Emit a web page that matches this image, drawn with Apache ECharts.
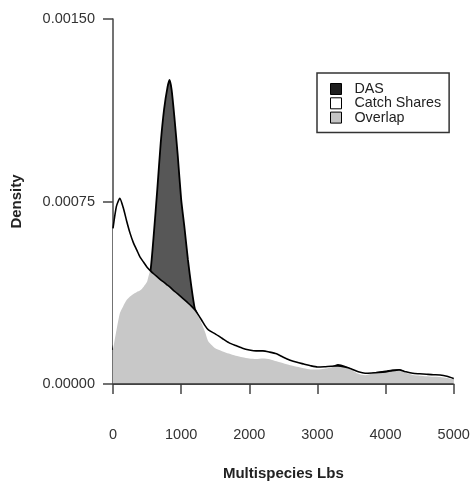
<!DOCTYPE html>
<html>
<head>
<meta charset="utf-8">
<script src="https://cdn.jsdelivr.net/npm/echarts@6/dist/echarts.min.js"></script>
<style>html,body{margin:0;padding:0;background:#fff;}#c{width:473px;height:483px;}</style>
</head>
<body>
<div id="c"></div>
<script>
// Multispecies lbs sample points
var lbs = [0, 50, 100, 150, 200, 250, 300, 350, 400, 450, 500, 550, 600, 650, 700, 750, 800, 830, 860, 900, 950, 1000, 1050, 1100, 1150, 1200, 1250, 1300, 1350, 1400, 1500, 1600, 1700, 1800, 1900, 2000, 2100, 2200, 2300, 2400, 2500, 2600, 2700, 2800, 2900, 3000, 3100, 3200, 3300, 3400, 3500, 3600, 3700, 3800, 3900, 4000, 4100, 4200, 4300, 4400, 4500, 4600, 4700, 4800, 4900, 5000];
// Catch Shares density (x 1e-5)
var catchShares = [64, 73, 76.3, 72.5, 67, 62, 58, 55, 52, 50, 48, 46.5, 45.2, 44, 42.8, 41.8, 40.6, 40, 39.2, 38.2, 37, 35.8, 34.6, 33.3, 32, 30.5, 28.5, 26.3, 24, 22.2, 20.6, 18.8, 17, 15.8, 14.7, 14, 13.6, 13.6, 13.1, 12.4, 11, 9.8, 8.9, 8.2, 7.5, 7, 7.1, 7.3, 7.4, 7, 6.2, 5, 4.4, 4.5, 4.7, 5, 5.5, 5.8, 5, 4.4, 4.2, 4, 3.8, 3.7, 3.2, 2.3];
// DAS density (x 1e-5)
var das = [14, 22, 29, 32, 34.5, 36, 37, 37.8, 38.5, 40, 42, 46.5, 62, 80, 99, 113, 122, 125, 121, 110, 94, 76, 64, 51, 40, 31, 28, 25, 21.5, 17.5, 14.7, 13.5, 12.5, 11.6, 11, 10.5, 10.3, 10.5, 10.2, 9.3, 8.5, 7.7, 7.1, 6.5, 6, 6, 6.3, 6.8, 7.8, 7.2, 5.8, 4.2, 3.6, 4.2, 4.8, 5.2, 5.6, 5.7, 4.6, 3.7, 3.4, 3.2, 3.0, 2.9, 2.5, 2];
var scale = 1e-5;
var xTickLabels = ['0', '1000', '2000', '3000', '4000', '5000'];
var yTickLabels = ['0.00000', '0.00075', '0.00150'];
var legendNames = ['DAS', 'Catch Shares', 'Overlap'];

function pairs(arr) { return lbs.map(function (x, i) { return [x, arr[i] * scale]; }); }
var overlap = das.map(function (v, i) { return Math.min(v, catchShares[i]); });

var font = "'Liberation Sans', Arial, Helvetica, sans-serif";
var chart = echarts.init(document.getElementById('c'), null, {renderer: 'canvas'});
chart.setOption({
  animation: false,
  backgroundColor: '#fff',
  textStyle: {fontFamily: font},
  grid: {left: 113, right: 19.3, top: 19, bottom: 99, containLabel: false, outerBoundsMode: 'none'},
  xAxis: {
    type: 'value', min: 0, max: 5000, interval: 1000, offset: 14,
    name: 'Multispecies Lbs', nameLocation: 'middle', nameGap: 68,
    nameTextStyle: {fontSize: 15, fontWeight: 'bold', color: '#222', fontFamily: font},
    axisLine: {show: true, lineStyle: {color: '#444', width: 1.5}},
    axisTick: {show: true, length: 10, lineStyle: {color: '#444', width: 1.5}},
    axisLabel: {margin: 29, fontSize: 14.5, color: '#333', fontFamily: font,
      formatter: function (v) { return xTickLabels[Math.round(v / 1000)]; }},
    splitLine: {show: false}
  },
  yAxis: {
    type: 'value', min: 0, max: 0.0015, interval: 0.00075,
    name: 'Density', nameLocation: 'middle', nameGap: 89, nameRotate: 90,
    nameTextStyle: {fontSize: 15, fontWeight: 'bold', color: '#222', fontFamily: font},
    axisLine: {show: true, lineStyle: {color: '#444', width: 1.5}},
    axisTick: {show: true, length: 10, lineStyle: {color: '#444', width: 1.5}},
    axisLabel: {margin: 18, fontSize: 14.5, color: '#333', fontFamily: font,
      formatter: function (v) { return yTickLabels[Math.round(v / 0.00075)]; }},
    splitLine: {show: false}
  },
  legend: {
    orient: 'vertical', left: 317, top: 73,
    data: [
      {name: 'DAS', itemStyle: {color: '#1e1e1e', borderColor: '#000', borderWidth: 1}},
      {name: 'Catch Shares', itemStyle: {color: '#fff', borderColor: '#000', borderWidth: 1}},
      {name: 'Overlap', itemStyle: {color: '#c4c4c4', borderColor: '#000', borderWidth: 1}}
    ],
    icon: 'rect', itemWidth: 11, itemHeight: 11, itemGap: 0.3,
    padding: [9, 8, 8, 13],
    backgroundColor: '#fff', borderColor: '#333', borderWidth: 1.5, borderRadius: 0,
    selectedMode: false,
    textStyle: {fontSize: 14.3, color: '#222', fontFamily: font, lineHeight: 14, padding: [0, 0, 0, 8]}
  },
  series: [
    {
      name: legendNames[0], type: 'line', data: pairs(das), showSymbol: false, smooth: 0.2, z: 1,
      lineStyle: {color: '#000', width: 1.8},
      itemStyle: {color: '#1e1e1e'},
      areaStyle: {color: '#575757', opacity: 1}
    },
    {
      name: legendNames[1], type: 'line', data: pairs(catchShares), showSymbol: false, smooth: 0.2, z: 2,
      lineStyle: {width: 0, color: '#fff'},
      itemStyle: {color: '#fff'},
      areaStyle: {color: '#fff', opacity: 1}
    },
    {
      name: legendNames[2], type: 'line', data: pairs(overlap), showSymbol: false, smooth: 0.2, z: 3,
      lineStyle: {width: 0, color: '#c8c8c8'},
      itemStyle: {color: '#c8c8c8'},
      areaStyle: {color: '#c8c8c8', opacity: 1}
    },
    {
      name: 'CS outline', type: 'line', data: pairs(catchShares), showSymbol: false, smooth: 0.2, z: 4,
      lineStyle: {color: '#000', width: 1.6},
      markLine: {
        silent: true, symbol: ['none', 'none'], label: {show: false},
        lineStyle: {color: '#333', width: 1.5, type: 'solid'},
        data: [{yAxis: 0}]
      }
    }
  ]
});
</script>
</body>
</html>
